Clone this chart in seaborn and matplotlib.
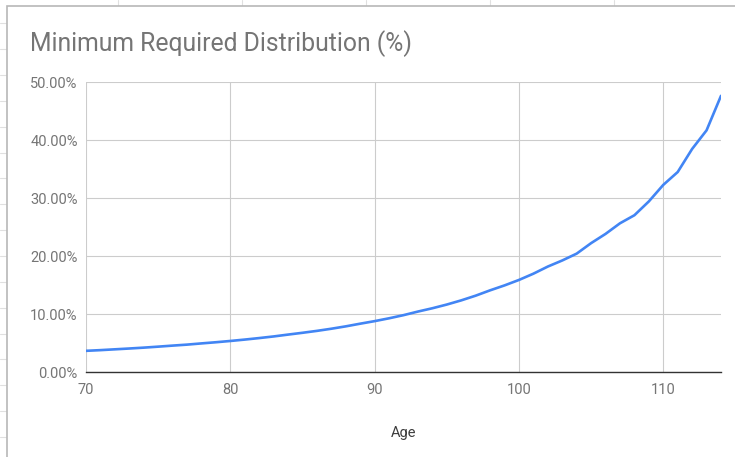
import matplotlib
matplotlib.use("Agg")
import matplotlib.pyplot as plt
from matplotlib.lines import Line2D
from matplotlib.patches import Rectangle
from matplotlib.ticker import FuncFormatter, MultipleLocator
import pandas as pd
import seaborn as sns

# Uniform lifetime table: required minimum distribution by age, in percent
ages = list(range(70, 115))
rmd_pct = [
    3.65, 3.77, 3.91, 4.05, 4.20, 4.37, 4.55, 4.72, 4.93, 5.13,
    5.35, 5.59, 5.85, 6.13, 6.45, 6.76, 7.09, 7.46, 7.87, 8.33,
    8.77, 9.26, 9.80, 10.42, 10.99, 11.63, 12.35, 13.16, 14.08, 14.93,
    15.87, 16.95, 18.18, 19.23, 20.41, 22.22, 23.81, 25.64, 27.03, 29.41,
    32.26, 34.48, 38.46, 41.67, 47.62,
]
x_ticks = [70, 80, 90, 100, 110]
title = "Minimum Required Distribution (%)"
x_label = "Age"

df = pd.DataFrame({"Age": ages, "RMD": rmd_pct})

sns.set_theme(style="white")
plt.rcParams["font.family"] = ["Roboto", "DejaVu Sans"]

W, H = 735, 457
fig = plt.figure(figsize=(W / 100, H / 100), dpi=100)
fig.patch.set_facecolor("white")

# spreadsheet cells behind the embedded chart
cell_color = "#e0e0e0"
for cx in [118, 242, 366, 490, 614]:
    fig.add_artist(Line2D([cx / W, cx / W], [1, 1 - 6 / H],
                          transform=fig.transFigure, color=cell_color,
                          lw=0.8, zorder=-20))
y = 23.3
while y < H:
    fig.add_artist(Line2D([0, 7 / W], [1 - y / H, 1 - y / H],
                          transform=fig.transFigure, color=cell_color,
                          lw=0.8, zorder=-20))
    y += 25.85

# chart frame
fig.add_artist(Rectangle((7 / W, -0.1), 1.2, (H - 6) / H + 0.1,
                         transform=fig.transFigure, facecolor="white",
                         edgecolor="#b8b8b8", lw=1.2, zorder=-10))

left, right, top, bottom = 86, 721, 82, 372
ax = fig.add_axes([left / W, 1 - bottom / H, (right - left) / W, (bottom - top) / H])
ax.set_facecolor("white")

sns.lineplot(data=df, x="Age", y="RMD", ax=ax, color="#4285F4", lw=1.9)

ax.set_xlim(70, 114)
ax.set_ylim(0, 50)
ax.set_xticks(x_ticks)
ax.yaxis.set_major_locator(MultipleLocator(10))
ax.yaxis.set_major_formatter(FuncFormatter(lambda v, p: f"{v:.2f}%"))

ax.grid(True, color="#cccccc", lw=0.8)
ax.set_axisbelow(True)
for side in ["top", "right", "left"]:
    ax.spines[side].set_visible(False)
ax.spines["bottom"].set_color("#333333")
ax.spines["bottom"].set_linewidth(1.0)
ax.spines["bottom"].set_zorder(3)

ax.tick_params(axis="both", length=0, labelsize=10.5, labelcolor="#757575")
ax.tick_params(axis="x", pad=8)
ax.tick_params(axis="y", pad=6)

ax.set_xlabel(x_label, fontsize=10.5, color="#3c3c3c", labelpad=21)
ax.set_ylabel("")

fig.text(30 / W, 1 - 44 / H, title, fontsize=17.8, color="#757575",
         ha="left", va="center")

fig.savefig("out.png", dpi=100)
